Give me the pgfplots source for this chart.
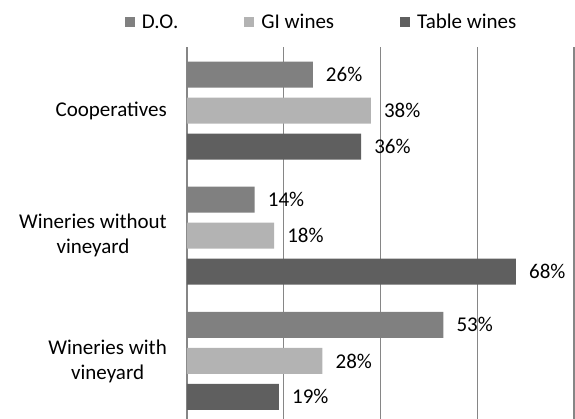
\documentclass[border=0pt]{standalone}
\usepackage{pgfplots}
\pgfplotsset{compat=1.18}
\usepackage{fontspec}
\setmainfont{Carlito}
\newcommand\cf{\fontsize{21}{25}\selectfont}
\definecolor{cDO}{RGB}{128,128,128}
\definecolor{cGI}{RGB}{179,179,179}
\definecolor{cTW}{RGB}{95,95,95}
\definecolor{cgrid}{RGB}{134,134,134}
\begin{document}
\begin{tikzpicture}
\begin{axis}[
  scale only axis,
  width=387pt, height=372pt,
  xmin=0, xmax=80,
  ymin=-0.464, ymax=2.508,
  /pgf/number format/assume math mode=true,
  xbar, bar width=26pt,
  axis line style={draw=none},
  xtick={0,20,40,60,80}, xticklabels={},
  xmajorgrids, major grid style={cgrid, line width=1.2pt},
  major tick length=0pt,
  ytick={0,1,2},
  yticklabels={Wineries with\\vineyard, Wineries without\\vineyard, Cooperatives},
  yticklabel style={align=center, font=\cf, inner sep=0pt, xshift=-20pt},
  nodes near coords={\pgfmathprintnumber[fixed,precision=0,assume math mode=true]{\pgfplotspointmeta}\%},
  nodes near coords style={font=\cf, anchor=west, inner sep=0pt, xshift=13pt, text=black},
  legend columns=3,
  legend image code/.code={\fill[#1] (0pt,-5pt) rectangle (10pt,5pt);},
  legend style={draw=none, fill=none, font=\cf, inner sep=0pt, outer sep=0pt,
    at={(-0.1602,1.067)}, anchor=west,
    /tikz/every odd column/.append style={column sep=7pt},
    /tikz/every even column/.append style={column sep=66pt},
    nodes={inner sep=0pt}},
]
\addplot[fill=cDO, draw=none, bar shift=36pt] coordinates {(53,0) (14,1) (26,2)};
\addplot[fill=cGI, draw=none, bar shift=0pt] coordinates {(28,0) (18,1) (38,2)};
\addplot[fill=cTW, draw=none, bar shift=-36pt] coordinates {(19,0) (68,1) (36,2)};
\legend{D.O., GI wines, Table wines}
\end{axis}
\pgfresetboundingbox
\path ([xshift=-187pt]current axis.south west) rectangle ([xshift=1pt,yshift=47pt]current axis.north east);
\end{tikzpicture}
\end{document}
